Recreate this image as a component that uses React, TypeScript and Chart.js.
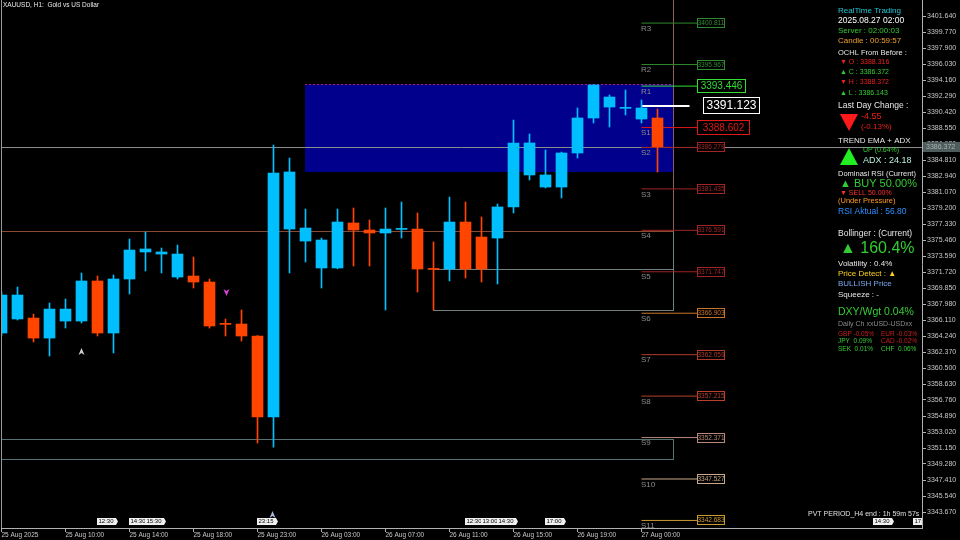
import React, { useEffect, useRef } from 'react';
import { Chart, registerables } from 'chart.js';

Chart.register(...registerables);

const FAMILY = '"Liberation Sans", Arial, sans-serif';
const px = (s: number) => `${s}px ${FAMILY}`;

// ---- candle data (H1, XAUUSD) ----
const opens = [
  3364.59, 3366.23, 3366.34, 3364.0, 3365.99, 3365.99, 3370.67, 3364.59, 3370.9, 3374.06,
  3373.82, 3371.13, 3371.25, 3370.55, 3365.7, 3365.64, 3364.24, 3354.77, 3376.74, 3375.34,
  3372.19, 3372.19, 3377.45, 3376.63, 3376.28, 3376.7, 3376.74, 3372.12, 3372.07, 3377.56,
  3375.81, 3375.69, 3379.32, 3383.06, 3381.65, 3381.65, 3385.63, 3389.72, 3391.0, 3390.85,
  3389.6, 3389.72,
];
const highs = [
  3369.38, 3369.97, 3366.81, 3368.1, 3368.56, 3371.6, 3371.25, 3371.37, 3375.58, 3376.39,
  3374.52, 3374.87, 3373.47, 3370.9, 3366.23, 3367.28, 3364.3, 3386.56, 3385.04, 3379.08,
  3375.69, 3379.08, 3379.2, 3377.8, 3379.2, 3379.9, 3378.62, 3375.23, 3380.48, 3379.9,
  3378.15, 3379.67, 3389.48, 3387.85, 3385.98, 3385.74, 3390.89, 3393.6, 3392.41, 3392.99,
  3391.82, 3390.77,
];
const lows = [
  3364.24, 3366.11, 3363.54, 3361.9, 3365.17, 3365.76, 3364.24, 3362.25, 3369.15, 3371.84,
  3371.6, 3370.9, 3369.85, 3365.17, 3364.24, 3363.65, 3351.73, 3351.26, 3371.6, 3372.89,
  3369.85, 3372.1, 3372.42, 3372.42, 3367.28, 3375.69, 3369.38, 3367.28, 3370.67, 3371.02,
  3370.55, 3370.32, 3378.62, 3382.47, 3381.54, 3380.37, 3385.04, 3389.13, 3388.67, 3390.07,
  3389.13, 3383.41,
];
const closes = [
  3369.03, 3369.03, 3364.0, 3367.39, 3367.39, 3370.67, 3364.59, 3370.9, 3374.29, 3374.41,
  3374.06, 3373.82, 3370.55, 3365.41, 3365.6, 3364.24, 3354.77, 3383.29, 3383.41, 3376.86,
  3375.46, 3377.56, 3376.63, 3376.28, 3376.74, 3376.8, 3372.07, 3372.02, 3377.56, 3372.07,
  3372.07, 3379.32, 3386.8, 3386.8, 3383.06, 3385.63, 3389.72, 3393.58, 3392.17, 3390.95,
  3390.89, 3386.37,
];

const xTickIndex = [0, 4, 8, 12, 16, 20, 24, 28, 32, 36, 40];
const xTickLabels = [
  '25 Aug 2025', '25 Aug 10:00', '25 Aug 14:00', '25 Aug 18:00', '25 Aug 23:00', '26 Aug 03:00',
  '26 Aug 07:00', '26 Aug 11:00', '26 Aug 15:00', '26 Aug 19:00', '27 Aug 00:00',
];
const yTickLabels = [
  '3401.640', '3399.770', '3397.900', '3396.030', '3394.160', '3392.290', '3390.420', '3388.550',
  '3386.680', '3384.810', '3382.940', '3381.070', '3379.200', '3377.330', '3375.460', '3373.590',
  '3371.720', '3369.850', '3367.980', '3366.110', '3364.240', '3362.370', '3360.500', '3358.630',
  '3356.760', '3354.890', '3353.020', '3351.150', '3349.280', '3347.410', '3345.540', '3343.670',
];

// pivot levels
const levelNames = ['R3', 'R2', 'R1', 'P', 'S1', 'S2', 'S3', 'S4', 'S5', 'S6', 'S7', 'S8', 'S9', 'S10', 'S11'];
const levelValues = [
  3400.811, 3395.967, 3393.446, 3391.123, 3388.602, 3386.279, 3381.435, 3376.591, 3371.747,
  3366.903, 3362.059, 3357.215, 3352.371, 3347.527, 3342.683,
];
const levelStart = 40;
const bidPrice = 3386.372;

// zones (time index / price)
const zoneStart = 19;
const zoneEnd = 42;
const zoneTop = 3393.69;
const zoneBottom = 3383.41;
const brownBoxBottom = 3376.55;
const boxBStart = 27;
const boxBTop = 3372.07;
const boxBBottom = 3367.28;
const boxCTop = 3352.2;
const boxCBottom = 3349.86;

// calendar events
const eventTimes = ['12:30', '14:30', '15:30', '23:15', '12:30', '13:00', '14:30', '17:00', '14:30', '17:00'];
const eventIndex = [6, 8, 9, 16, 29, 30, 31, 34, 54.5, 57];

// arrows
const markerIndex = [5, 14.06, 16.94];
const markerPrice = [3362.37, 3369.38, 3343.32];
const markerDir = ['up', 'down', 'up'];

// ---- styles ----
const BULL = '#00bfff';
const BEAR = '#ff4500';
const LEVEL_STYLE: Record<string, { color: string; width: number; font: number; boxW: number; boxH: number; boxX: number; end: number }> = {
  R3: { color: '#2f8a2f', width: 1, font: 6.5, boxW: 28, boxH: 10, boxX: 43.5, end: 43.5 },
  R2: { color: '#2f8a2f', width: 1, font: 6.5, boxW: 28, boxH: 10, boxX: 43.5, end: 43.5 },
  R1: { color: '#33dd33', width: 1, font: 10, boxW: 49, boxH: 14, boxX: 43.5, end: 43.5 },
  P: { color: '#ffffff', width: 2, font: 12, boxW: 57, boxH: 17, boxX: 43.875, end: 43 },
  S1: { color: '#e01818', width: 1, font: 10, boxW: 53, boxH: 15, boxX: 43.5, end: 43.5 },
  S2: { color: '#a02424', width: 1, font: 6.5, boxW: 28, boxH: 10, boxX: 43.5, end: 43.5 },
  S3: { color: '#a02424', width: 1, font: 6.5, boxW: 28, boxH: 10, boxX: 43.5, end: 43.5 },
  S4: { color: '#a02424', width: 1, font: 6.5, boxW: 28, boxH: 10, boxX: 43.5, end: 43.5 },
  S5: { color: '#a02424', width: 1, font: 6.5, boxW: 28, boxH: 10, boxX: 43.5, end: 43.5 },
  S6: { color: '#c8742a', width: 1, font: 6.5, boxW: 28, boxH: 10, boxX: 43.5, end: 43.5 },
  S7: { color: '#b03a2a', width: 1, font: 6.5, boxW: 28, boxH: 10, boxX: 43.5, end: 43.5 },
  S8: { color: '#b8402a', width: 1, font: 6.5, boxW: 28, boxH: 10, boxX: 43.5, end: 43.5 },
  S9: { color: '#b88878', width: 1, font: 6.5, boxW: 28, boxH: 10, boxX: 43.5, end: 43.5 },
  S10: { color: '#c8a888', width: 1, font: 6.5, boxW: 28, boxH: 10, boxX: 43.5, end: 43.5 },
  S11: { color: '#c89a30', width: 1, font: 6.5, boxW: 28, boxH: 10, boxX: 43.5, end: 43.5 },
};

const X_MIN = -0.03125;
const X_MAX = X_MIN + 921 / 16;
const Y_MAX = 3403.51;
const Y_MIN = 3341.8;

function text(ctx: CanvasRenderingContext2D, s: string, x: number, y: number, size: number, color: string, align: CanvasTextAlign = 'left') {
  ctx.font = px(size);
  ctx.fillStyle = color;
  ctx.textAlign = align;
  ctx.textBaseline = 'middle';
  ctx.fillText(s, x, y);
}

function hLine(ctx: CanvasRenderingContext2D, x0: number, x1: number, y: number, color: string) {
  const yy = Math.round(y) + 0.5;
  ctx.strokeStyle = color;
  ctx.lineWidth = 1;
  ctx.beginPath();
  ctx.moveTo(x0, yy);
  ctx.lineTo(x1, yy);
  ctx.stroke();
}
function vLine(ctx: CanvasRenderingContext2D, x: number, y0: number, y1: number, color: string) {
  const xx = Math.round(x) + 0.5;
  ctx.strokeStyle = color;
  ctx.lineWidth = 1;
  ctx.beginPath();
  ctx.moveTo(xx, y0);
  ctx.lineTo(xx, y1);
  ctx.stroke();
}

const mtPlugin = {
  id: 'mt',
  beforeDraw(chart: any) {
    const ctx = chart.ctx as CanvasRenderingContext2D;
    ctx.save();
    ctx.fillStyle = '#000';
    ctx.fillRect(0, 0, chart.width, chart.height);
    ctx.restore();
  },
  beforeDatasetsDraw(chart: any) {
    const ctx = chart.ctx as CanvasRenderingContext2D;
    const a = chart.chartArea;
    const x = chart.scales.x;
    const y = chart.scales.y;
    ctx.save();
    ctx.beginPath();
    ctx.rect(a.left, a.top, a.right - a.left, a.bottom - a.top);
    ctx.clip();

    // navy zone
    const zx0 = Math.floor(x.getPixelForValue(zoneStart));
    const zx1 = Math.floor(x.getPixelForValue(zoneEnd));
    const zy0 = Math.round(y.getPixelForValue(zoneTop));
    const zy1 = Math.round(y.getPixelForValue(zoneBottom));
    ctx.fillStyle = '#00008c';
    ctx.fillRect(zx0, zy0, zx1 - zx0, zy1 - zy0);
    ctx.setLineDash([2, 2]);
    hLine(ctx, zx0, zx1, zy0, '#b02050');
    ctx.setLineDash([]);

    // brown outline
    const by = y.getPixelForValue(brownBoxBottom);
    hLine(ctx, a.left, zx1, by, '#8a4a30');
    vLine(ctx, zx1, a.top, Math.round(by), '#8a6050');

    // gray box B
    const bx0 = Math.floor(x.getPixelForValue(boxBStart));
    const bt = y.getPixelForValue(boxBTop);
    const bb = y.getPixelForValue(boxBBottom);
    hLine(ctx, bx0, zx1, bt, '#6e8080');
    hLine(ctx, bx0, zx1, bb, '#6e8080');
    vLine(ctx, bx0, Math.round(bt), Math.round(bb) + 1, '#6e8080');
    vLine(ctx, zx1, Math.round(by), Math.round(bb) + 1, '#6e8080');

    // box C
    const ct = y.getPixelForValue(boxCTop);
    const cb = y.getPixelForValue(boxCBottom);
    hLine(ctx, a.left, zx1, ct, '#557272');
    hLine(ctx, a.left, zx1, cb, '#557272');
    vLine(ctx, zx1, Math.round(ct), Math.round(cb) + 1, '#557272');

    // bid line
    hLine(ctx, a.left, a.right, y.getPixelForValue(bidPrice), '#8c8c8c');

    // level names
    const lx = Math.floor(x.getPixelForValue(levelStart));
    levelNames.forEach((n, k) => {
      const ly = y.getPixelForValue(levelValues[k]);
      ctx.font = px(8);
      ctx.fillStyle = '#8c8c8c';
      ctx.textAlign = 'left';
      ctx.textBaseline = 'top';
      ctx.fillText(n, lx, ly + 1.5);
    });
    ctx.restore();
  },
  afterDatasetsDraw(chart: any) {
    const ctx = chart.ctx as CanvasRenderingContext2D;
    const a = chart.chartArea;
    const x = chart.scales.x;
    const y = chart.scales.y;
    ctx.save();
    ctx.beginPath();
    ctx.rect(a.left, a.top, a.right - a.left, a.bottom - a.top);
    ctx.clip();

    // level price boxes
    levelNames.forEach((n, k) => {
      const st = LEVEL_STYLE[n];
      const ly = y.getPixelForValue(levelValues[k]);
      const bx = Math.floor(x.getPixelForValue(st.boxX));
      const top = Math.round(ly - st.boxH / 2);
      ctx.fillStyle = '#000';
      ctx.fillRect(bx, top, st.boxW, st.boxH);
      ctx.strokeStyle = st.color;
      ctx.lineWidth = 1;
      ctx.strokeRect(bx + 0.5, top + 0.5, st.boxW - 1, st.boxH - 1);
      text(ctx, levelValues[k].toFixed(3), bx + st.boxW / 2, top + st.boxH / 2 + 0.5, st.font, st.color, 'center');
    });

    // arrows
    markerIndex.forEach((mi, k) => {
      const cx = x.getPixelForValue(mi);
      const cy = y.getPixelForValue(markerPrice[k]);
      ctx.beginPath();
      if (markerDir[k] === 'up') {
        ctx.fillStyle = k === 0 ? '#c8d0d8' : '#a8b8d8';
        ctx.moveTo(cx, cy - 4);
        ctx.lineTo(cx + 3, cy + 3);
        ctx.lineTo(cx, cy + 1);
        ctx.lineTo(cx - 3, cy + 3);
      } else {
        ctx.fillStyle = '#e040e0';
        ctx.moveTo(cx, cy + 4);
        ctx.lineTo(cx + 3, cy - 3);
        ctx.lineTo(cx, cy - 1);
        ctx.lineTo(cx - 3, cy - 3);
      }
      ctx.closePath();
      ctx.fill();
    });

    // calendar events
    eventTimes.forEach((t, k) => {
      const ex = Math.floor(x.getPixelForValue(eventIndex[k]));
      ctx.font = px(6);
      const w = Math.ceil(ctx.measureText(t).width) + 3;
      ctx.fillStyle = '#f0f0f0';
      ctx.beginPath();
      ctx.moveTo(ex, 518);
      ctx.lineTo(ex + w, 518);
      ctx.lineTo(ex + w + 2, 521.5);
      ctx.lineTo(ex + w, 525);
      ctx.lineTo(ex, 525);
      ctx.closePath();
      ctx.fill();
      text(ctx, t, ex + 1.5, 521.8, 6, '#000');
    });
    ctx.restore();
  },
  afterDraw(chart: any) {
    const ctx = chart.ctx as CanvasRenderingContext2D;
    const a = chart.chartArea;
    const y = chart.scales.y;
    ctx.save();

    // left frame
    vLine(ctx, a.left, a.top, a.bottom, '#9a9a9a');

    // title
    text(ctx, 'XAUUSD, H1:  Gold vs US Dollar', 3, 5.5, 6.5, '#e8e8e8');

    // current price on axis
    const py = Math.round(y.getPixelForValue(bidPrice));
    ctx.fillStyle = '#4e5c5c';
    ctx.fillRect(a.right + 1, py - 5, 37, 10);
    text(ctx, bidPrice.toFixed(3), a.right + 4, py + 0.5, 7, '#a8b4b4');

    // info panel
    const L = 838;
    const W = '#e6e6e6';
    const G = '#33cc33';
    const R = '#e82020';
    text(ctx, 'RealTime Trading', L, 11, 8, '#22c4d4');
    text(ctx, '2025.08.27 02:00', L, 21, 8.5, '#ffffff');
    text(ctx, 'Server : 02:00:03', L, 31, 8, G);
    text(ctx, 'Candle : 00:59:57', L, 41, 8, '#f0a030');
    text(ctx, 'OCHL From Before :', L, 53, 7.5, W);
    text(ctx, '\u25BC O : 3388.316', 840, 62.5, 7, R);
    text(ctx, '\u25B2 C : 3386.372', 840, 72.5, 7, G);
    text(ctx, '\u25BC H : 3388.372', 840, 82.5, 7, R);
    text(ctx, '\u25B2 L : 3386.143', 840, 93, 7, G);
    text(ctx, 'Last Day Change :', L, 106, 8.5, W);
    ctx.fillStyle = '#ff1a1a';
    ctx.beginPath();
    ctx.moveTo(840, 114);
    ctx.lineTo(858, 114);
    ctx.lineTo(849, 131);
    ctx.closePath();
    ctx.fill();
    text(ctx, '-4.55', 861, 116.5, 9, R);
    text(ctx, '(-0.13%)', 861, 127, 8, R);
    text(ctx, 'TREND EMA + ADX', L, 141, 8, W);
    ctx.fillStyle = '#22ee22';
    ctx.beginPath();
    ctx.moveTo(840, 165);
    ctx.lineTo(858, 165);
    ctx.lineTo(849, 148);
    ctx.closePath();
    ctx.fill();
    text(ctx, 'UP (0.64%)', 863, 150.5, 7, G);
    text(ctx, 'ADX : 24.18', 863, 161, 9, '#b8f0dc');
    text(ctx, 'Dominasi RSI (Current)', L, 174, 7.5, W);
    text(ctx, '\u25B2 BUY 50.00%', 840, 183.5, 11, G);
    text(ctx, '\u25BC SELL 50.00%', 840, 193.5, 7, '#ff3030');
    text(ctx, '(Under Pressure)', L, 201, 7.5, '#ff9922');
    text(ctx, 'RSI Aktual : 56.80', L, 211.5, 8.5, '#2f8fff');
    text(ctx, 'Bollinger : (Current)', L, 233.5, 8.5, W);
    text(ctx, '\u25B2 160.4%', 840, 248.5, 16, G);
    text(ctx, 'Volatility : 0.4%', L, 263.5, 8, W);
    text(ctx, 'Price Detect : \u25B2', L, 273.5, 8, '#ffd21a');
    text(ctx, 'BULLISH Price', L, 284, 8, '#7aaaf0');
    text(ctx, 'Squeeze : -', L, 294.5, 8, W);
    text(ctx, 'DXY/Wgt 0.04%', L, 312.5, 10.5, G);
    text(ctx, 'Daily Ch xxUSD-USDxx', L, 324, 7, '#8a8a8a');
    text(ctx, 'GBP -0.05%', L, 334, 6.5, '#c82020');
    text(ctx, 'EUR -0.03%', 881, 334, 6.5, '#c82020');
    text(ctx, 'JPY  0.09%', L, 341.5, 6.5, G);
    text(ctx, 'CAD -0.02%', 881, 341.5, 6.5, '#c82020');
    text(ctx, 'SEK  0.01%', L, 349, 6.5, G);
    text(ctx, 'CHF  0.06%', 881, 349, 6.5, G);
    text(ctx, 'PVT PERIOD_H4 end : 1h 59m 57s', 808, 514.5, 7, '#e0e0e0');
    ctx.restore();
  },
};

export default function App() {
  const ref = useRef<HTMLCanvasElement | null>(null);
  useEffect(() => {
    document.body.style.margin = '0';
    document.body.style.background = '#000';
    const canvas = ref.current;
    if (!canvas) return;
    const colors = closes.map((c, i) => (c >= opens[i] ? BULL : BEAR));
    const levelSets = levelNames.map((n, k) => ({
      type: 'line' as const,
      label: n,
      data: [
        { x: levelStart, y: levelValues[k] },
        { x: LEVEL_STYLE[n].end, y: levelValues[k] },
      ],
      borderColor: LEVEL_STYLE[n].color,
      borderWidth: LEVEL_STYLE[n].width,
      pointRadius: 0,
      order: 2,
    }));
    const chart = new Chart(canvas, {
      type: 'bar',
      data: {
        datasets: [
          {
            type: 'bar',
            label: 'body',
            data: opens.map((o, i) => ({ x: i, y: [o, closes[i]] })) as any,
            backgroundColor: colors,
            barThickness: 11,
            minBarLength: 1,
            grouped: false,
            borderWidth: 0,
            order: 0,
          },
          {
            type: 'bar',
            label: 'wick',
            data: highs.map((h, i) => ({ x: i, y: [lows[i], h] })) as any,
            backgroundColor: colors,
            barThickness: 1,
            grouped: false,
            borderWidth: 0,
            order: 1,
          },
          ...(levelSets as any[]),
        ],
      },
      options: {
        responsive: false,
        animation: false,
        devicePixelRatio: 1,
        events: [],
        layout: { padding: { left: 1, top: 0, right: 0, bottom: 0 } },
        plugins: { legend: { display: false }, tooltip: { enabled: false } },
        scales: {
          x: {
            type: 'linear',
            min: X_MIN,
            max: X_MAX,
            offset: false,
            afterBuildTicks: (s: any) => {
              s.ticks = xTickIndex.map((v) => ({ value: v }));
            },
            afterFit: (s: any) => {
              s.height = 12;
              s.paddingLeft = 0;
              s.paddingRight = 0;
              s.paddingTop = 0;
              s.paddingBottom = 0;
            },
            ticks: {
              autoSkip: false,
              maxRotation: 0,
              align: 'start',
              padding: -1,
              color: '#c8c8c8',
              font: { family: FAMILY, size: 6.5 },
              callback: (_v: any, idx: number) => xTickLabels[idx],
            },
            grid: { drawOnChartArea: false, drawTicks: true, tickLength: 4, color: '#b0b0b0', offset: false },
            border: { display: true, color: '#b0b0b0' },
          },
          y: {
            type: 'linear',
            position: 'right',
            min: Y_MIN,
            max: Y_MAX,
            beginAtZero: false,
            afterBuildTicks: (s: any) => {
              s.ticks = yTickLabels.map((t) => ({ value: parseFloat(t) }));
            },
            afterFit: (s: any) => {
              s.width = 38;
              s.paddingTop = 0;
              s.paddingBottom = 0;
              s.paddingLeft = 0;
              s.paddingRight = 0;
            },
            ticks: {
              autoSkip: false,
              padding: 1,
              color: '#c8c8c8',
              font: { family: FAMILY, size: 7 },
              callback: (_v: any, idx: number) => yTickLabels[idx],
            },
            grid: { drawOnChartArea: false, drawTicks: true, tickLength: 4, color: '#b0b0b0' },
            border: { display: true, color: '#b0b0b0' },
          },
        },
      } as any,
      plugins: [mtPlugin],
    });
    return () => chart.destroy();
  }, []);
  return (
    <div style={{ width: 960, height: 540, background: '#000' }}>
      <canvas ref={ref} width={960} height={540} style={{ display: 'block', width: 960, height: 540 }} />
    </div>
  );
}
